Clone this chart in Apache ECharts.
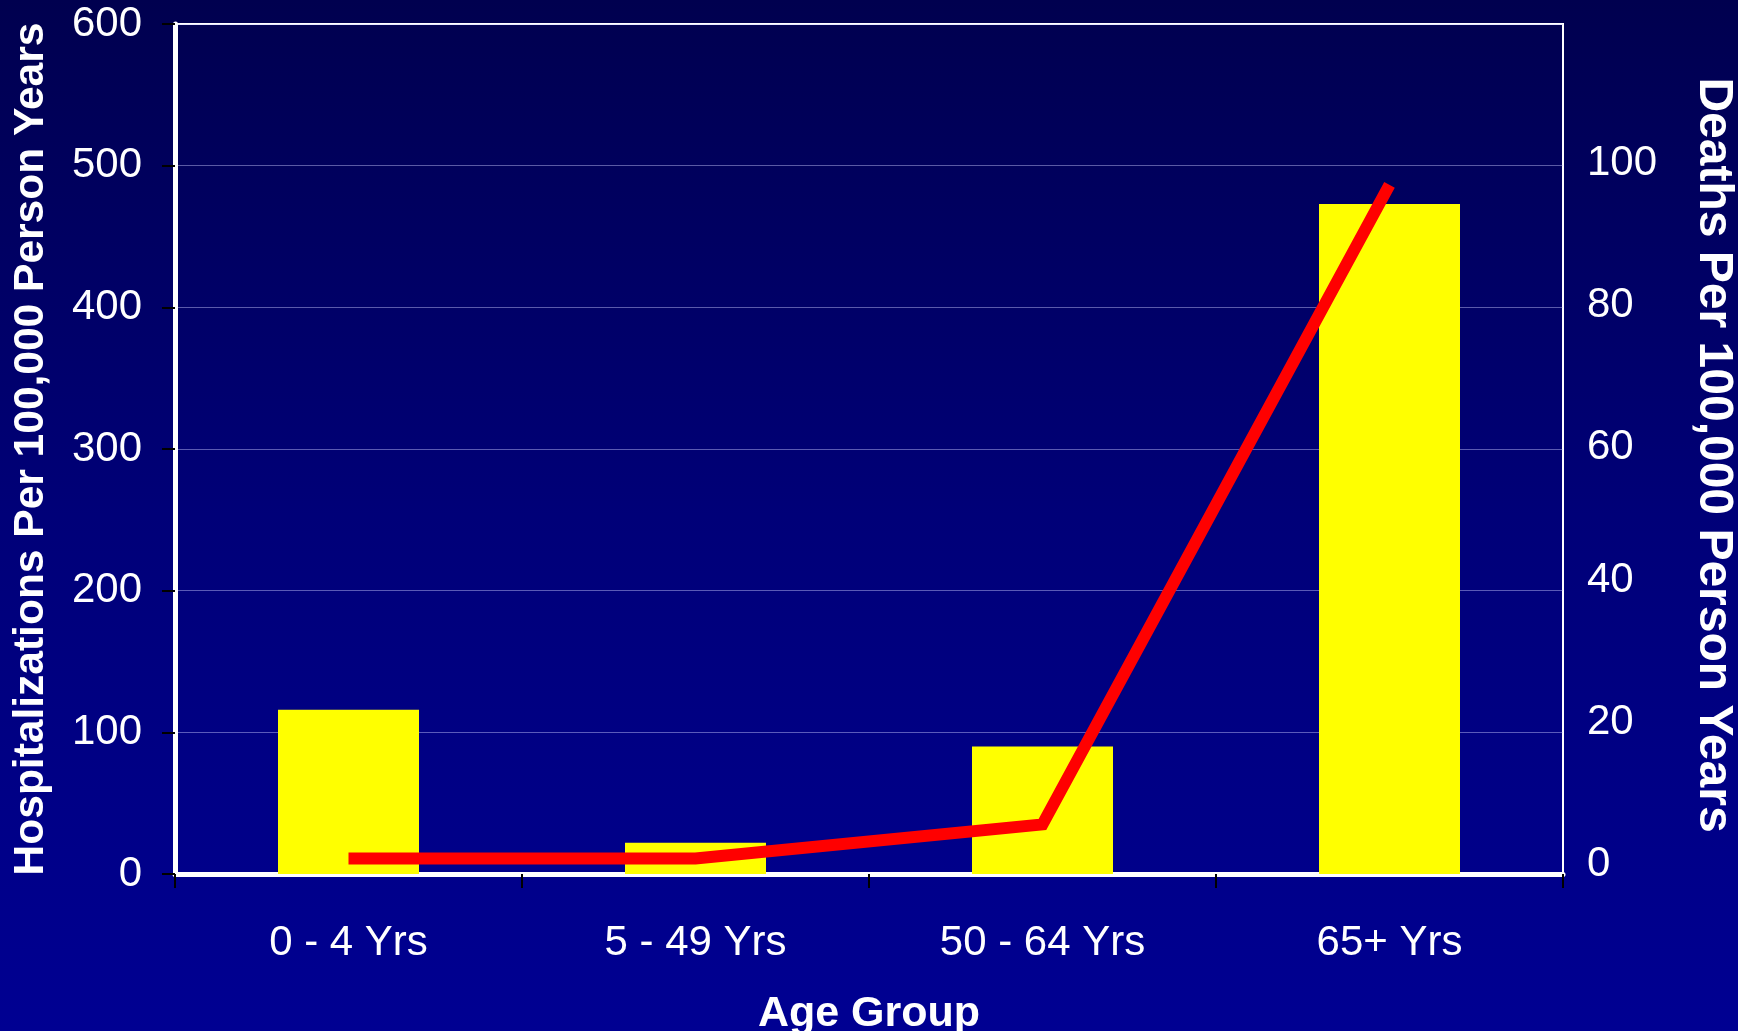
<!DOCTYPE html>
<html>
<head>
<meta charset="utf-8">
<script src="https://cdn.jsdelivr.net/npm/echarts@6/dist/echarts.min.js"></script>
<style>
html,body{margin:0;padding:0;width:1738px;height:1031px;overflow:hidden;}
#c{width:1738px;height:1031px;background:linear-gradient(to bottom,#00004f 0%,#000078 50%,#000092 100%);}
</style>
</head>
<body>
<div id="c"></div>
<script>
const categories = ['0 - 4 Yrs', '5 - 49 Yrs', '50 - 64 Yrs', '65+ Yrs'];
const hospitalizations = [116, 22, 90, 473];
const deaths = [2.2, 2.2, 7, 97.3];
const leftTicks = [0, 100, 200, 300, 400, 500, 600];
const rightTicks = [0, 20, 40, 60, 80, 100];

const FONT = '"Liberation Sans", Arial, sans-serif';
const chart = echarts.init(document.getElementById('c'), null, {renderer: 'canvas'});
chart.setOption({
  backgroundColor: 'transparent',
  animation: false,
  grid: {left: 175, right: 175, top: 24, bottom: 157, containLabel: false, outerBoundsMode: 'none',
    show: true, borderColor: '#ffffff', borderWidth: 2, backgroundColor: 'transparent'},
  xAxis: {
    type: 'category',
    data: categories,
    boundaryGap: true,
    axisLine: {show: true, lineStyle: {color: '#ffffff', width: 5}},
    axisTick: {show: true, length: 14, lineStyle: {color: '#000000', width: 2}},
    axisLabel: {color: '#ffffff', fontFamily: FONT, fontSize: 42, margin: 48},
    name: 'Age Group',
    nameLocation: 'middle',
    nameGap: 119,
    nameTextStyle: {color: '#ffffff', fontFamily: FONT, fontSize: 43, fontWeight: 'bold'}
  },
  yAxis: [
    {
      type: 'value', min: leftTicks[0], max: leftTicks[leftTicks.length - 1], interval: 100,
      position: 'left',
      axisLine: {show: true, lineStyle: {color: '#ffffff', width: 5}},
      axisTick: {show: true, length: 13, lineStyle: {color: '#000000', width: 2}},
      axisLabel: {color: '#ffffff', fontFamily: FONT, fontSize: 42, margin: 33},
      splitLine: {show: true, lineStyle: {color: 'rgba(200,200,255,0.45)', width: 1}},
      name: 'Hospitalizations Per 100,000 Person Years',
      nameLocation: 'middle',
      nameGap: 122,
      nameRotate: 90,
      nameTextStyle: {color: '#ffffff', fontFamily: FONT, fontSize: 42.5, fontWeight: 'bold'}
    },
    {
      type: 'value', min: 0, max: 120, interval: 20,
      position: 'right',
      axisLine: {show: false},
      axisTick: {show: false},
      axisLabel: {color: '#ffffff', fontFamily: FONT, fontSize: 42, margin: 24,
        formatter: function (v) {
          if (rightTicks.indexOf(v) < 0) return '';
          return v <= 40 ? '{lo|' + v + '}' : '{hi|' + v + '}';
        },
        rich: {
          lo: {color: '#ffffff', fontFamily: FONT, fontSize: 42, padding: [0, 0, 20, 0]},
          hi: {color: '#ffffff', fontFamily: FONT, fontSize: 42, padding: [0, 0, 4, 0]}
        }},
      splitLine: {show: false},
      name: 'Deaths Per 100,000 Person Years',
      nameLocation: 'middle',
      nameGap: 126,
      nameRotate: -90,
      nameTextStyle: {color: '#ffffff', fontFamily: FONT, fontSize: 48, fontWeight: 'bold', padding: [0, 0, 0, 12]}
    }
  ],
  series: [
    {
      type: 'bar',
      data: hospitalizations,
      yAxisIndex: 0,
      barWidth: 141,
      itemStyle: {color: '#ffff00'},
      z: 2
    },
    {
      type: 'line',
      data: deaths,
      yAxisIndex: 1,
      symbol: 'none',
      lineStyle: {color: '#ff0000', width: 12, cap: 'butt', join: 'miter'},
      z: 3
    }
  ]
});
</script>
</body>
</html>
